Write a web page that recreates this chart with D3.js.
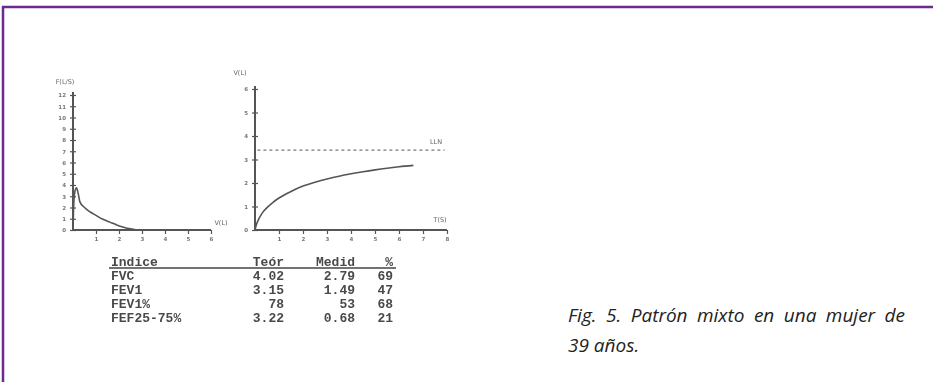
<!DOCTYPE html>
<html><head><meta charset="utf-8">
<script src="https://cdn.jsdelivr.net/npm/d3@7"></script>
<style>body{margin:0;background:#fff;overflow:hidden}</style>
</head><body>
<svg id="c" width="933" height="382"></svg>
<script>
// ---- data ----
const fvVolume = [0, 0.03, 0.08, 0.15, 0.22, 0.3, 0.5, 0.75, 1.0, 1.3, 1.6, 1.9, 2.2, 2.5, 2.79];
const fvFlow   = [0, 2.2, 3.4, 3.75, 3.3, 2.5, 2.0, 1.6, 1.3, 0.95, 0.7, 0.45, 0.25, 0.1, 0];
const vtTime   = [0, 0.05, 0.15, 0.3, 0.5, 0.75, 1, 1.5, 2, 2.5, 3, 3.5, 4, 4.5, 5, 5.5, 6, 6.6];
const vtVolume = [0, 0.2, 0.45, 0.72, 0.95, 1.18, 1.36, 1.64, 1.87, 2.03, 2.17, 2.29, 2.39, 2.48, 2.56, 2.63, 2.69, 2.75];
const flowTicks = [0,1,2,3,4,5,6,7,8,9,10,11,12];
const fvVolTicks = [1,2,3,4,5,6];
const vtVolTicks = [0,1,2,3,4,5,6];
const timeTicks = [1,2,3,4,5,6,7,8];
const llnValue = 3.4;
const tableHeaders = ["Indice","Teór","Medid","%"];
const indices = ["FVC","FEV1","FEV1%","FEF25-75%"];
const teor  = ["4.02","3.15","78","3.22"];
const medid = ["2.79","1.49","53","0.68"];
const pct   = ["69","47","68","21"];
const captionLines = ["Fig. 5. Patrón mixto en una mujer de","39 años."];

const svg = d3.select("#c");
const defs = svg.append("defs");
defs.append("filter").attr("id","blur").append("feGaussianBlur").attr("stdDeviation",0.6);

// frame
const purple = "#6a2a8e";
svg.append("line").attr("x1",2).attr("x2",933).attr("y1",7).attr("y2",7).attr("stroke",purple).attr("stroke-width",2.5);
svg.append("line").attr("x1",3).attr("x2",3).attr("y1",6).attr("y2",382).attr("stroke",purple).attr("stroke-width",2.5);

const ink = "#555";
const g = svg.append("g").attr("filter","url(#blur)");
const fmt = d3.format("d");

function styleAxis(sel){
  sel.select(".domain").attr("stroke",ink).attr("stroke-width",2);
  sel.selectAll(".tick line").attr("stroke",ink).attr("stroke-width",1.2);
  sel.selectAll(".tick text").attr("fill","#777").attr("font-size",5.5).attr("font-family","DejaVu Sans").attr("font-weight","bold");
}

// ---- left: flow-volume ----
const x1 = d3.scaleLinear().domain([0,6]).range([73,211]);
const y1 = d3.scaleLinear().domain([0,12]).range([230,95]);
const ax1 = g.append("g").attr("transform","translate(0,230)")
  .call(d3.axisBottom(x1).tickValues(fvVolTicks).tickFormat(fmt).tickSize(4).tickSizeOuter(0).tickPadding(3));
styleAxis(ax1);
ax1.select(".domain").attr("d",`M73,0H${x1(6)}`);
const ay1 = g.append("g").attr("transform","translate(73,0)")
  .call(d3.axisLeft(y1).tickValues(flowTicks).tickFormat(fmt).tickSize(3).tickSizeOuter(0).tickPadding(4));
styleAxis(ay1);
ay1.select(".domain").attr("d",`M0,231V${y1(12)-3}`);
ay1.selectAll(".tick line").attr("x1",-3).attr("x2",3);
g.append("path").datum(fvVolume.map((v,i)=>[v,fvFlow[i]]))
  .attr("d",d3.line().x(d=>x1(d[0])).y(d=>y1(d[1])).curve(d3.curveMonotoneX))
  .attr("fill","none").attr("stroke",ink).attr("stroke-width",1.6);
g.append("text").attr("x",65).attr("y",84).attr("text-anchor","middle").attr("font-size",6.5).attr("font-family","DejaVu Sans").attr("fill","#666").text("F(L/S)");
g.append("text").attr("x",221).attr("y",225).attr("text-anchor","middle").attr("font-size",6.5).attr("font-family","DejaVu Sans").attr("fill","#666").text("V(L)");

// ---- right: volume-time ----
const x2 = d3.scaleLinear().domain([0,8]).range([255,447]);
const y2 = d3.scaleLinear().domain([0,6]).range([230,89]);
const ax2 = g.append("g").attr("transform","translate(0,230)")
  .call(d3.axisBottom(x2).tickValues(timeTicks).tickFormat(fmt).tickSize(4).tickSizeOuter(0).tickPadding(3));
styleAxis(ax2);
ax2.select(".domain").attr("d",`M255,0H${x2(8)}`);
const ay2 = g.append("g").attr("transform","translate(255,0)")
  .call(d3.axisLeft(y2).tickValues(vtVolTicks).tickFormat(fmt).tickSize(3).tickSizeOuter(0).tickPadding(4));
styleAxis(ay2);
ay2.select(".domain").attr("d",`M0,231V${y2(6)-3}`);
ay2.selectAll(".tick line").attr("x1",-3).attr("x2",3);
g.append("line").attr("x1",x2(0.1)).attr("x2",x2(7.9)).attr("y1",y2(llnValue)).attr("y2",y2(llnValue))
  .attr("stroke","#777").attr("stroke-width",1.3).attr("stroke-dasharray","3,3");
g.append("path").datum(vtTime.map((t,i)=>[t,vtVolume[i]]))
  .attr("d",d3.line().x(d=>x2(d[0])).y(d=>y2(d[1])).curve(d3.curveMonotoneX))
  .attr("fill","none").attr("stroke",ink).attr("stroke-width",1.6);
g.append("text").attr("x",240).attr("y",75).attr("text-anchor","middle").attr("font-size",6.5).attr("font-family","DejaVu Sans").attr("fill","#666").text("V(L)");
g.append("text").attr("x",440).attr("y",222).attr("text-anchor","middle").attr("font-size",6.5).attr("font-family","DejaVu Sans").attr("fill","#666").text("T(S)");
g.append("text").attr("x",436).attr("y",144).attr("text-anchor","middle").attr("font-size",6.5).attr("font-family","DejaVu Sans").attr("fill","#666").text("LLN");

// ---- table ----
const tg = g.append("g").attr("font-family","Liberation Mono, Courier New, monospace").attr("font-weight","bold").attr("font-size",13).attr("fill","#4a4a4a");
const colX = [111, 284, 355, 393];
const colAnchor = ["start","end","end","end"];
const headY = 266, rowH = 14;
tableHeaders.forEach((h,i)=>{
  tg.append("text").attr("x",colX[i]).attr("y",headY).attr("text-anchor",colAnchor[i]).text(h);
});
tg.append("line").attr("x1",109).attr("x2",396).attr("y1",headY+2).attr("y2",headY+2).attr("stroke","#444").attr("stroke-width",1.5);
const cols = [indices, teor, medid, pct];
indices.forEach((_,r)=>{
  cols.forEach((c,i)=>{
    tg.append("text").attr("x",colX[i]).attr("y",headY+rowH*(r+1)).attr("text-anchor",colAnchor[i]).text(c[r]);
  });
});

// ---- caption ----
const cap = svg.append("g").attr("font-family","Open Sans, Lato, sans-serif").attr("font-style","italic").attr("font-size",19).attr("fill","#222");
const l1 = cap.append("text").attr("x",568).attr("y",322).text(captionLines[0]);
const w = l1.node().getComputedTextLength();
const spaces = captionLines[0].split(" ").length-1;
l1.attr("word-spacing", (905-568-w)/spaces);
cap.append("text").attr("x",568).attr("y",352).text(captionLines[1]);
</script>
</body></html>
